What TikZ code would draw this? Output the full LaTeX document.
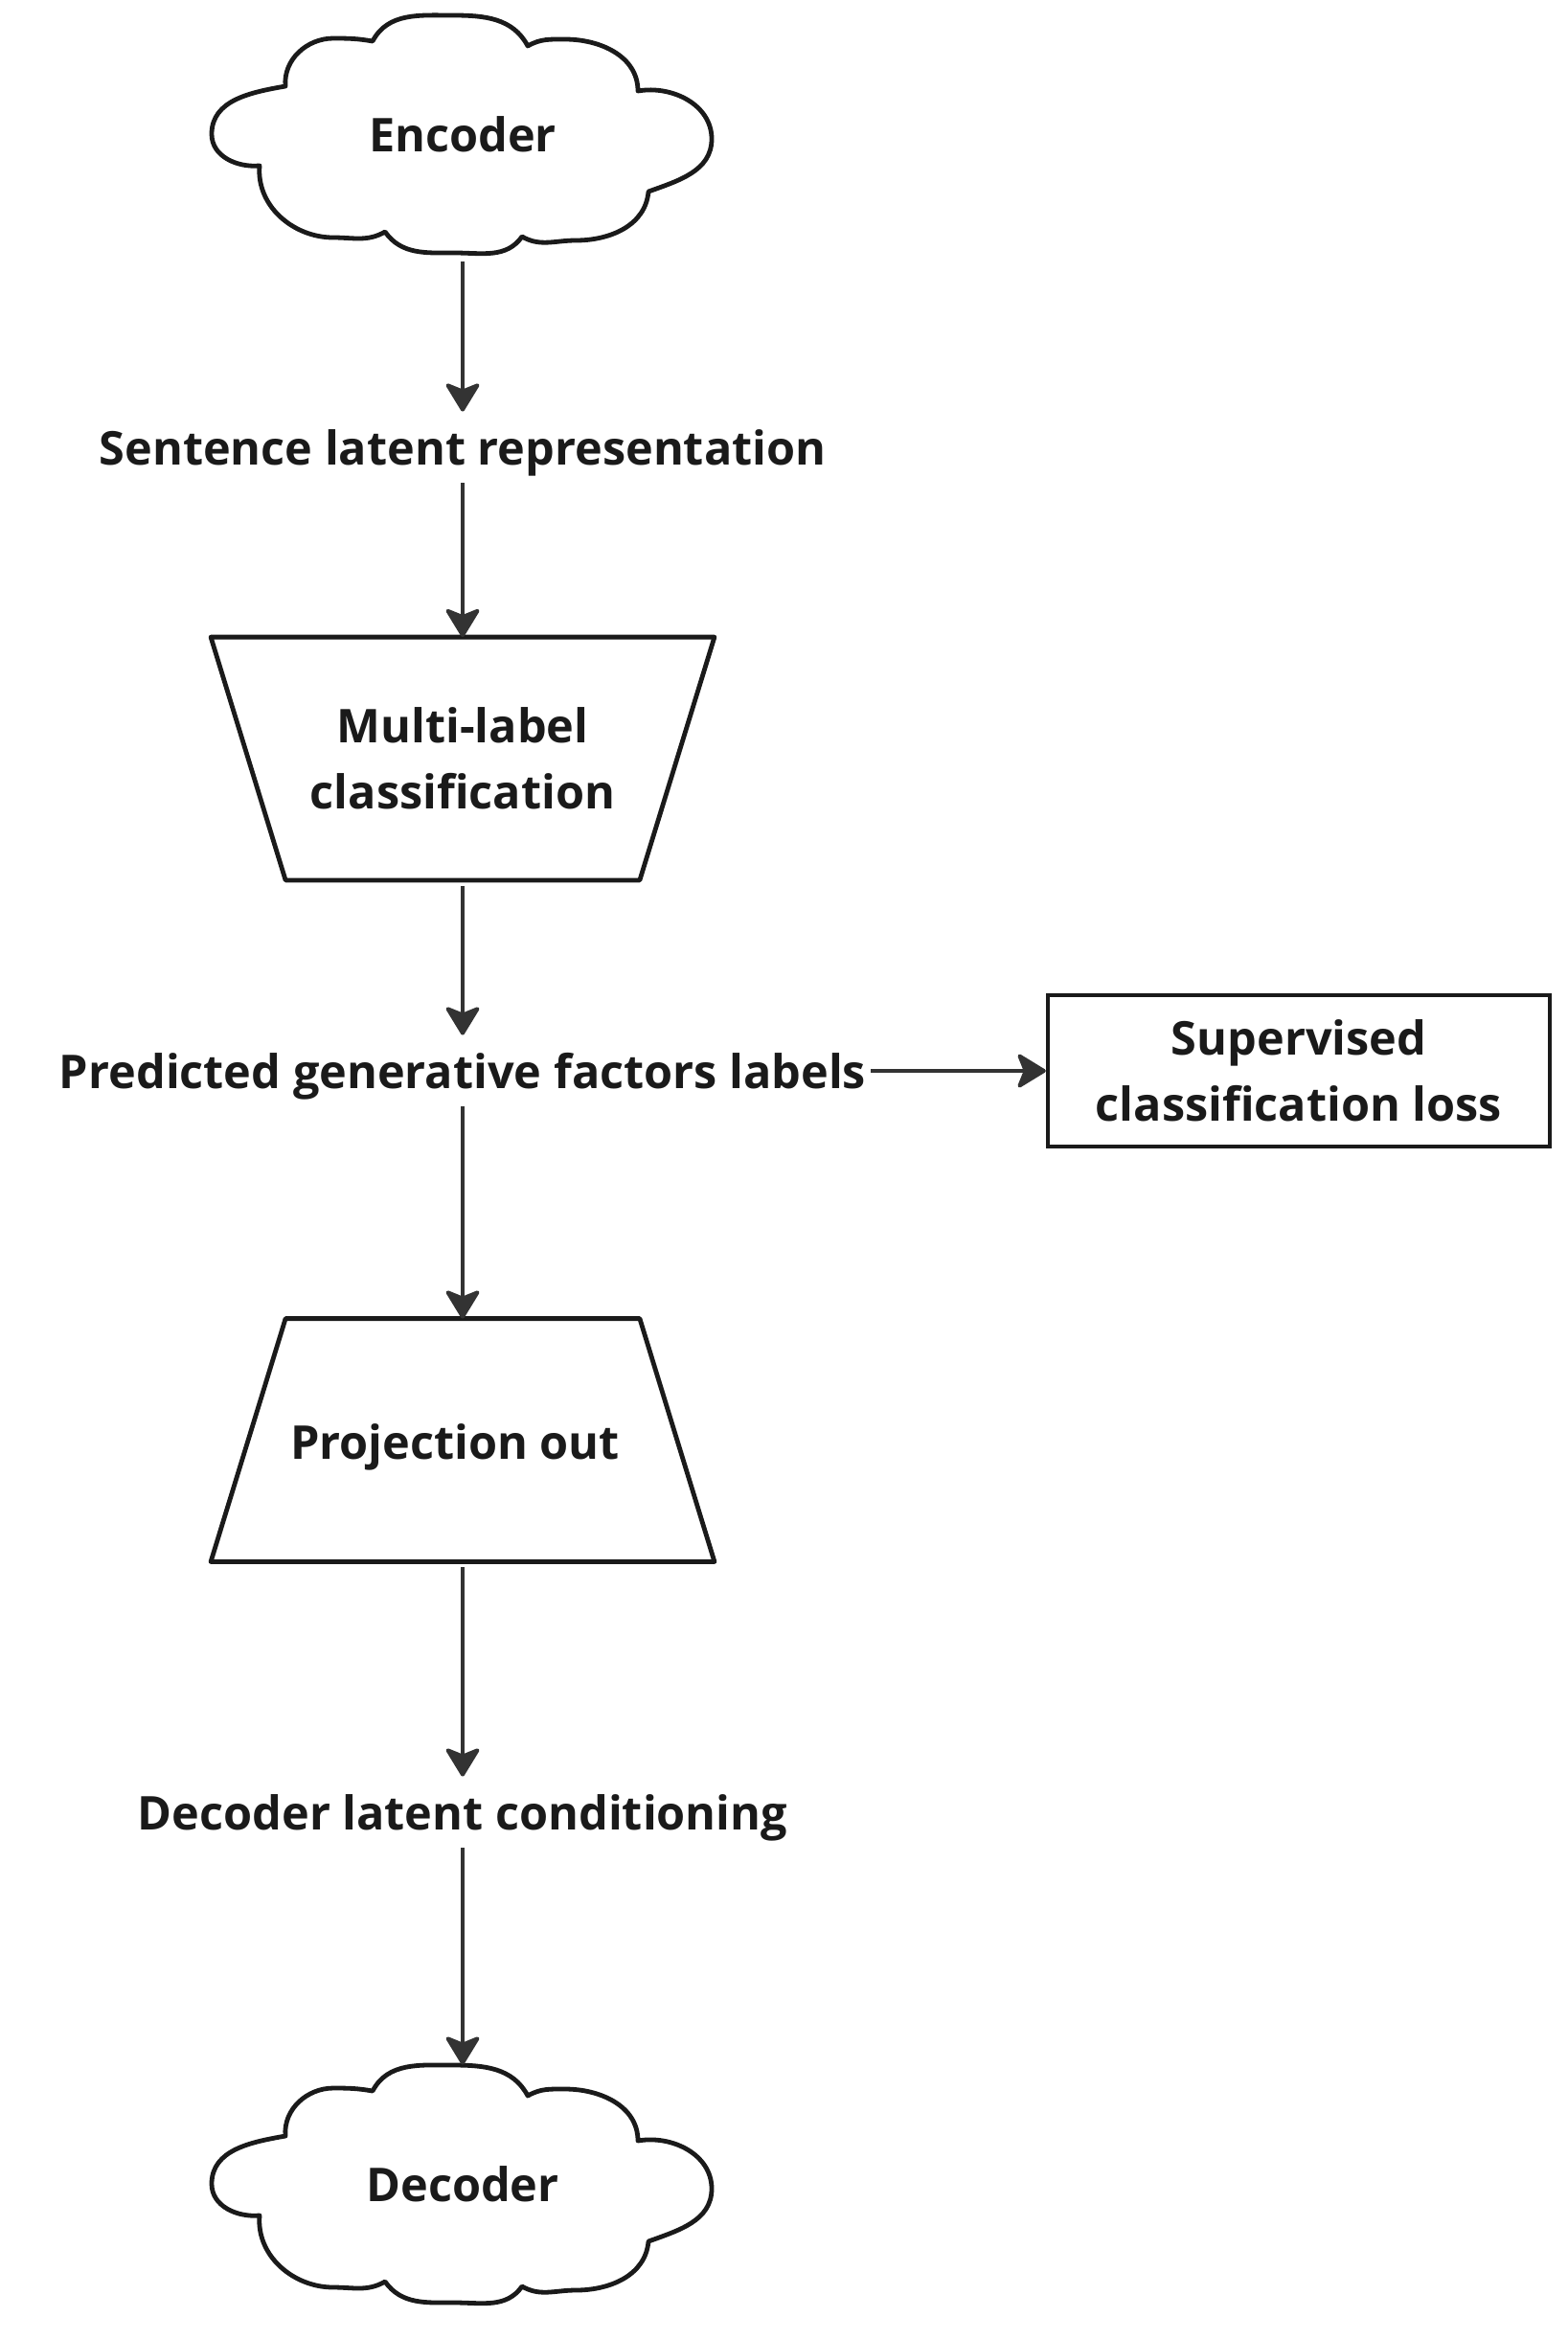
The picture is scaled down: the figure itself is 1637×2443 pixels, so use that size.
\documentclass[tikz,border=0pt]{standalone}
\usepackage{fontspec}
\setmainfont{Open Sans}
\usepackage{tikz}
\usetikzlibrary{arrows.meta}

\definecolor{inkgray}{HTML}{1A1A1A}
\definecolor{arrowgray}{HTML}{333333}

% cloud outline round a node, puff by puff
\newcommand{\cloudoutline}[1]{%
	\draw[outline, shift={(#1.center)}, y=0.5pt]
		(-94,97) to[out=62,in=180] (-10,124) to[out=0,in=118] (68,92)
		to[out=30,in=180] (107,99) to[out=0,in=90] (183,45)
		to[out=10,in=90] (260,-5) to[out=-90,in=20] (194,-60)
		to[out=-95,in=0] (118,-111) to[out=180,in=-30] (62,-107)
		to[out=-125,in=0] (-8,-124) to[out=180,in=-55] (-81,-102)
		to[out=-150,in=0] (-135,-108) to[out=180,in=-95] (-212,-33)
		to[out=185,in=-90] (-262,0) to[out=90,in=190] (-185,50)
		to[out=95,in=180] (-135,100) to[out=0,in=170] cycle;}

\begin{document}
\begin{tikzpicture}[x=0.5pt, y=-0.5pt,
	every node/.style={font=\fontsize{24.3}{34.5}\selectfont\bfseries, text=inkgray, align=center},
	outline/.style={draw=inkgray, line width=2.4pt, line join=round},
	cloudnode/.style={minimum width=261pt, minimum height=124pt, inner sep=0pt},
	trapnode/.style={minimum width=262.5pt, minimum height=126.5pt, inner sep=0pt},
	textnode/.style={inner xsep=2.5pt, inner ysep=8.75pt, text height=19pt, text depth=0.5pt},
	boxnode/.style={rectangle, draw=inkgray, line width=2.2pt, minimum width=262pt, minimum height=79pt},
	flow/.style={arrowgray, line width=2pt, -{Stealth[length=16.5pt, width=20pt, inset=4pt, round]}}
	]
	\useasboundingbox (0,0) rectangle (1637,2443);
	
	\node[cloudnode] (enc) at (483,140) {Encoder};
	\node[textnode] (sent) at (483,467) {Sentence latent representation};
	\node[trapnode] (mlc) at (483,792) {Multi-label\\classification};
	\node[textnode] (pred) at (483,1118) {Predicted generative factors labels};
	\node[boxnode] (loss) at (1356,1118) {Supervised\\classification loss};
	\node[trapnode, text height=20pt, text depth=0pt] (proj) at (483,1503.5) {Projection out\hspace*{8pt}};
	\node[textnode] (dlc) at (483,1892) {Decoder latent conditioning};
	\node[cloudnode] (dec) at (483,2280) {Decoder};
	
	\cloudoutline{enc}
	\cloudoutline{dec}
	\draw[outline] (mlc.north west) -- (mlc.north east) -- ([xshift=-39pt]mlc.south east) -- ([xshift=39pt]mlc.south west) -- cycle;
	\draw[outline] ([xshift=39pt]proj.north west) -- ([xshift=-39pt]proj.north east) -- (proj.south east) -- (proj.south west) -- cycle;
	
	\draw[flow, shorten <=4.25pt] (enc) -- (sent);
	\draw[flow] (sent) -- (mlc);
	\draw[flow, shorten <=3pt] (mlc) -- (pred);
	\draw[flow] (pred) -- (loss);
	\draw[flow] (pred) -- (proj);
	\draw[flow, shorten <=3pt] (proj) -- (dlc);
	\draw[flow] (dlc) -- (dec);
\end{tikzpicture}
\end{document}
